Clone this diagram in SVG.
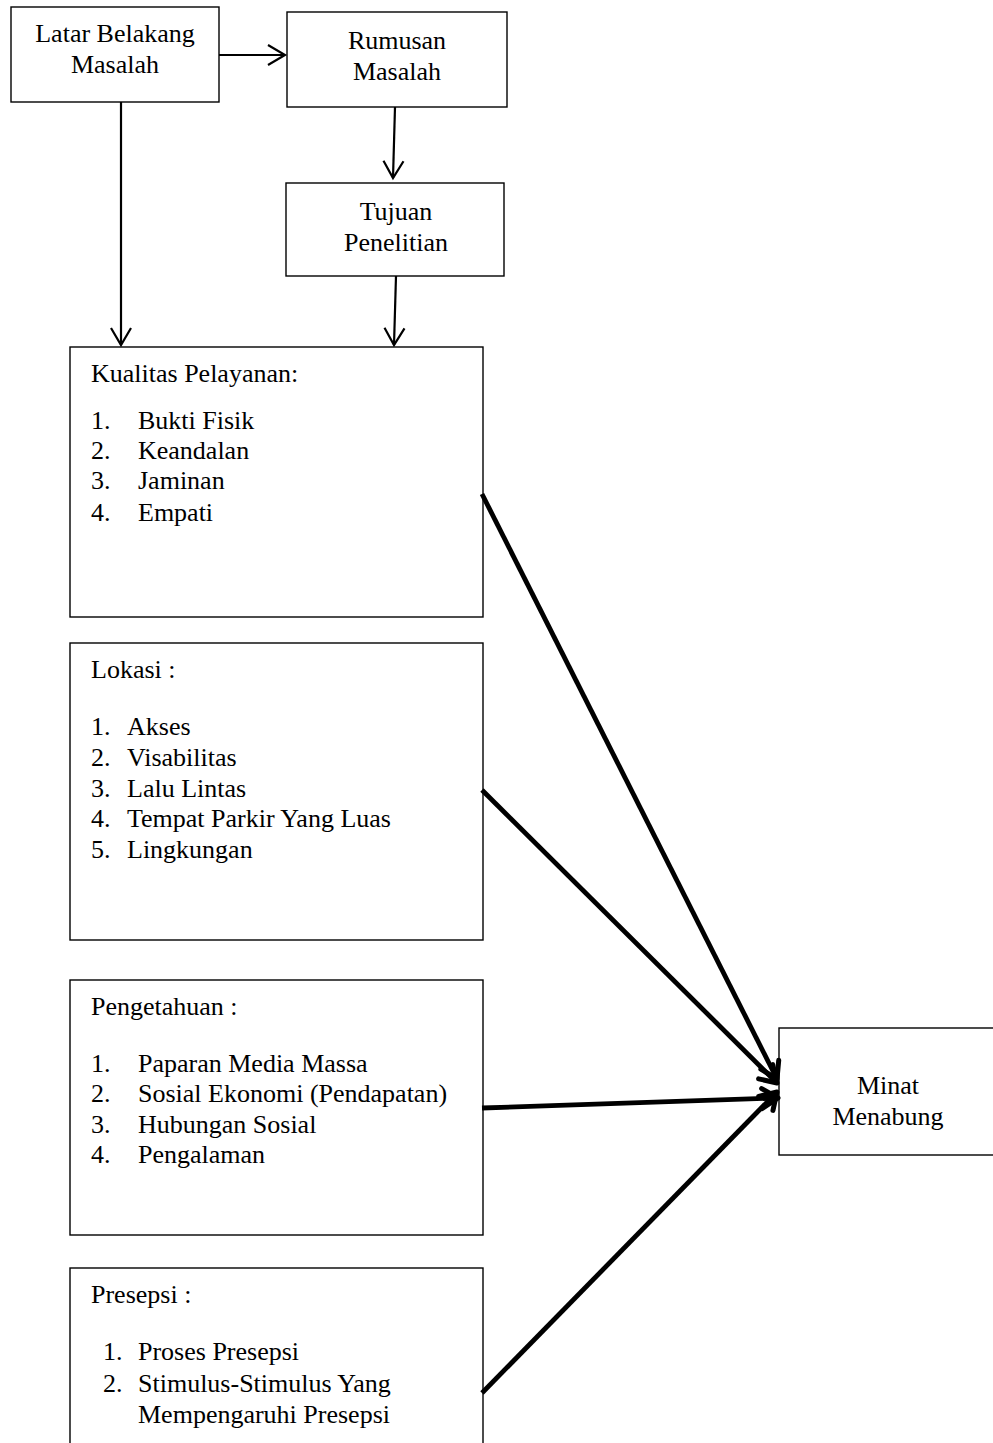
<svg xmlns="http://www.w3.org/2000/svg" width="993" height="1443" viewBox="0 0 993 1443">
<style>
  .box { fill: #fff; stroke: #000; stroke-width: 1.4; }
  text { font-family: "Liberation Serif", "Times New Roman", serif; font-size: 26px; fill: #000; }
  .c { text-anchor: middle; }
  .thin { stroke: #000; stroke-width: 2.2; fill: none; }
  .thick { stroke: #000; stroke-width: 4.8; fill: none; }
</style>
<defs>
  <marker id="openThin" markerUnits="userSpaceOnUse" viewBox="-20 -13 22 26" refX="0" refY="0" markerWidth="22" markerHeight="26" orient="auto" overflow="visible">
    <path d="M-17,-10 L0,0 L-17,10" fill="none" stroke="#000" stroke-width="2.2"/>
  </marker>
  <marker id="openThick" markerUnits="userSpaceOnUse" viewBox="-20 -13 22 26" refX="0" refY="0" markerWidth="22" markerHeight="26" orient="auto" overflow="visible">
    <path d="M-16,-10 L0,0 L-16,10" fill="none" stroke="#000" stroke-width="5" stroke-linecap="round" stroke-linejoin="round"/>
  </marker>
</defs>
<rect width="993" height="1443" fill="#fff"/>

<g id="latar">
  <rect class="box" x="11" y="7" width="208" height="95"/>
  <text class="c" x="115" y="42">Latar Belakang</text>
  <text class="c" x="115" y="73">Masalah</text>
</g>
<g id="rumusan">
  <rect class="box" x="287" y="12" width="220" height="95"/>
  <text class="c" x="397" y="49">Rumusan</text>
  <text class="c" x="397" y="80">Masalah</text>
</g>
<g id="tujuan">
  <rect class="box" x="286" y="183" width="218" height="93"/>
  <text class="c" x="396" y="220">Tujuan</text>
  <text class="c" x="396" y="251">Penelitian</text>
</g>
<g id="kualitas">
  <rect class="box" x="70" y="347" width="413" height="270"/>
  <text x="91" y="382">Kualitas Pelayanan:</text>
  <text x="91" y="429">1.</text><text x="138" y="429">Bukti Fisik</text>
  <text x="91" y="459">2.</text><text x="138" y="459">Keandalan</text>
  <text x="91" y="489">3.</text><text x="138" y="489">Jaminan</text>
  <text x="91" y="521">4.</text><text x="138" y="521">Empati</text>
</g>
<g id="lokasi">
  <rect class="box" x="70" y="643" width="413" height="297"/>
  <text x="91" y="678">Lokasi :</text>
  <text x="91" y="735">1.</text><text x="127" y="735">Akses</text>
  <text x="91" y="766">2.</text><text x="127" y="766">Visabilitas</text>
  <text x="91" y="797">3.</text><text x="127" y="797">Lalu Lintas</text>
  <text x="91" y="827">4.</text><text x="127" y="827">Tempat Parkir Yang Luas</text>
  <text x="91" y="858">5.</text><text x="127" y="858">Lingkungan</text>
</g>
<g id="pengetahuan">
  <rect class="box" x="70" y="980" width="413" height="255"/>
  <text x="91" y="1015">Pengetahuan :</text>
  <text x="91" y="1072">1.</text><text x="138" y="1072">Paparan Media Massa</text>
  <text x="91" y="1102">2.</text><text x="138" y="1102">Sosial Ekonomi (Pendapatan)</text>
  <text x="91" y="1133">3.</text><text x="138" y="1133">Hubungan Sosial</text>
  <text x="91" y="1163">4.</text><text x="138" y="1163">Pengalaman</text>
</g>
<g id="presepsi">
  <rect class="box" x="70" y="1268" width="413" height="200"/>
  <text x="91" y="1303">Presepsi :</text>
  <text x="103" y="1360">1.</text><text x="138" y="1360">Proses Presepsi</text>
  <text x="103" y="1392">2.</text><text x="138" y="1392">Stimulus-Stimulus Yang</text>
  <text x="138" y="1423">Mempengaruhi Presepsi</text>
</g>
<g id="minat">
  <rect class="box" x="779" y="1028" width="230" height="127"/>
  <text class="c" x="888" y="1094">Minat</text>
  <text class="c" x="888" y="1125">Menabung</text>
</g>

<g id="connectors">
  <line class="thin" x1="219" y1="55" x2="285" y2="55" marker-end="url(#openThin)"/>
  <line class="thin" x1="121" y1="102" x2="121" y2="345" marker-end="url(#openThin)"/>
  <line class="thin" x1="395" y1="107" x2="393" y2="178" marker-end="url(#openThin)"/>
  <line class="thin" x1="396" y1="276" x2="394" y2="345" marker-end="url(#openThin)"/>
  <line class="thick" x1="482" y1="494" x2="777" y2="1079" marker-end="url(#openThick)"/>
  <line class="thick" x1="482" y1="790" x2="777" y2="1083" marker-end="url(#openThick)"/>
  <line class="thick" x1="482" y1="1108" x2="778" y2="1098" marker-end="url(#openThick)"/>
  <line class="thick" x1="482" y1="1393" x2="777" y2="1092" marker-end="url(#openThick)"/>
</g>
</svg>
